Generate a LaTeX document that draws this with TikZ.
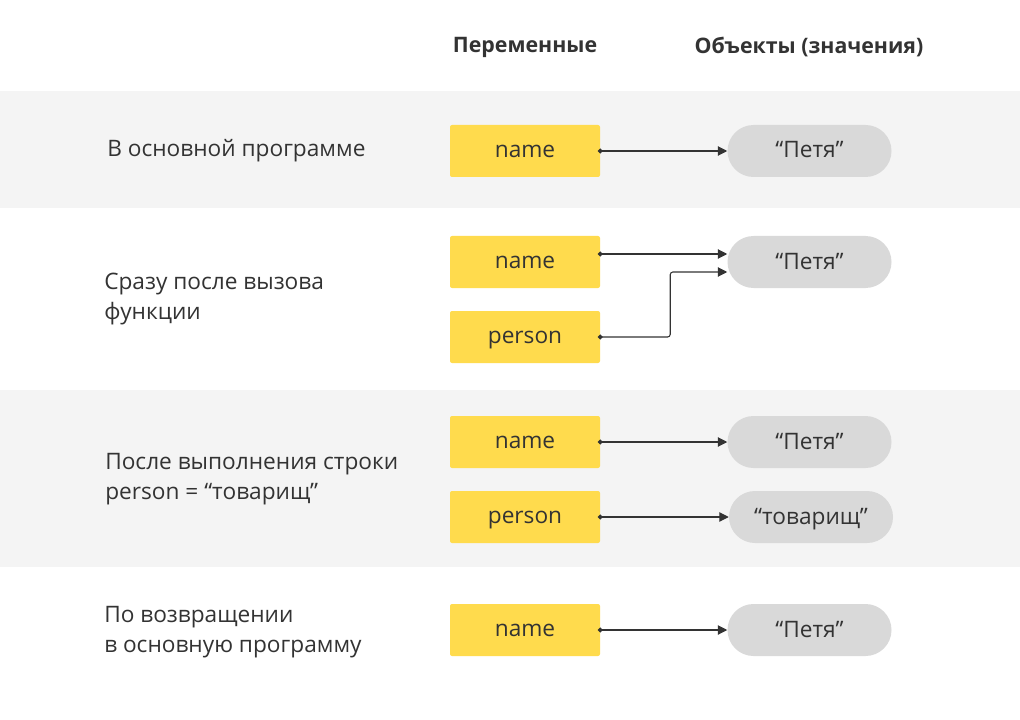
\documentclass[tikz,border=0pt]{standalone}
\usepackage{fontspec}
\setmainfont{Open Sans}
\usetikzlibrary{arrows.meta,calc}
\definecolor{band}{HTML}{F4F4F4}
\definecolor{yel}{HTML}{FFDB4D}
\definecolor{pill}{HTML}{D9D9D9}
\definecolor{txt}{HTML}{333333}
\tikzset{
  varbox/.style={fill=yel, minimum width=112.5pt, minimum height=39pt, rounded corners=1.5pt, inner sep=0pt, text=txt, text height=9.5pt, text depth=0pt, font=\fontsize{17}{20}\selectfont},
  objbox/.style={fill=pill, minimum width=123pt, minimum height=39pt, rounded corners=19.5pt, inner sep=0pt, text=txt, text height=10.5pt, text depth=0pt, font=\fontsize{17}{20}\selectfont},
  lbl/.style={anchor=west, align=left, text=txt, inner sep=0pt, font=\fontsize{17}{22.5}\selectfont},
  hdr/.style={text=txt, inner sep=0pt, font=\fontsize{16}{19}\selectfont\bfseries},
  link/.style={draw=txt, line width=0.8pt, {Circle[length=3.5pt]}-{Triangle[length=7pt,width=7pt]}, shorten <=-1.75pt},
}
\begin{document}
\begin{tikzpicture}[x=0.75pt, y=-0.75pt]
\useasboundingbox (0,0) rectangle (1020,720);
\fill[white] (0,0) rectangle (1020,720);
\fill[band] (0,91) rectangle (1020,208);
\fill[band] (0,390) rectangle (1020,567);
% headers
\node[hdr] (h1) at (525,47) {Переменные};
\node[hdr] (h2) at (809,47) {Объекты (значения)};
% row 1
\node[lbl] (l1) at (107,151) {В основной программе};
\node[varbox] (v1) at (525,151) {name};
\node[objbox] (o1) at (809.5,151) {“Петя”};
\draw[link] (v1.east) -- (o1.west);
% row 2
\node[lbl] (l2) at (104,299) {Сразу после вызова\\функции};
\node[varbox] (v2a) at (525,262) {name};
\node[varbox] (v2b) at (525,337) {person};
\node[objbox] (o2) at (809.5,262) {“Петя”};
\coordinate (t2a) at ($(o2.west)+(0,-8)$);
\coordinate (t2b) at ($(o2.west)+(0,10)$);
\draw[link] ($(v2a.east)+(0,-8)$) -- (t2a);
\draw[link, rounded corners=2pt] (v2b.east) -| ($(t2b)+(-57,0)$) -- (t2b);
% row 3
\node[lbl] (l3) at (105,479) {После выполнения строки\\person = “товарищ”};
\node[varbox] (v3a) at (525,442) {name};
\node[varbox] (v3b) at (525,517) {person};
\node[objbox] (o3a) at (809.5,442) {“Петя”};
\node[objbox] (o3b) at (811,517) {“товарищ”};
\draw[link] (v3a.east) -- (o3a.west);
\draw[link] (v3b.east) -- (o3b.west);
% row 4
\node[lbl] (l4) at (104,632) {По возвращении\\в основную программу};
\node[varbox] (v4) at (525,630) {name};
\node[objbox] (o4) at (809.5,630) {“Петя”};
\draw[link] (v4.east) -- (o4.west);
\end{tikzpicture}
\end{document}
